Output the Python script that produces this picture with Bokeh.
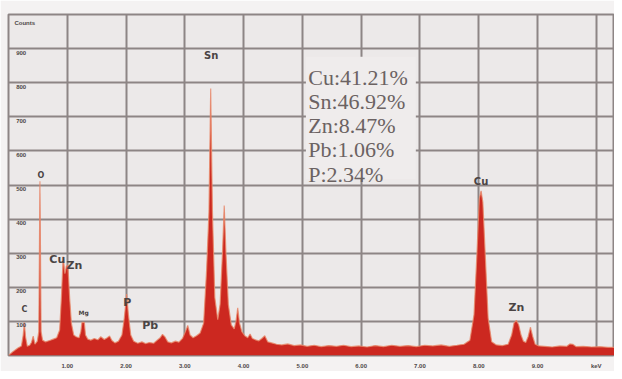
from bokeh.plotting import figure
from bokeh.models import FixedTicker, Range1d, ColumnDataSource
from bokeh.core.properties import value
from bokeh.embed import file_html
from bokeh.resources import INLINE

# ---- spectrum data (keV, counts) ----
energy = [0.00, 0.08, 0.16, 0.22, 0.25, 0.27, 0.29, 0.32, 0.36, 0.39, 0.42, 0.45, 0.49,
          0.515, 0.535, 0.555, 0.58, 0.63, 0.70, 0.76, 0.82, 0.87, 0.90, 0.93, 0.96,
          0.985, 1.01, 1.04, 1.07, 1.11, 1.15, 1.20, 1.23, 1.25, 1.29, 1.31, 1.35, 1.40,
          1.46, 1.52, 1.57, 1.63, 1.68, 1.72, 1.76, 1.81, 1.87, 1.93, 1.97, 2.01, 2.04,
          2.08, 2.13, 2.20, 2.27, 2.33, 2.40, 2.47, 2.53, 2.58, 2.62, 2.66, 2.71, 2.77,
          2.84, 2.90, 2.96, 3.01, 3.05, 3.09, 3.14, 3.20, 3.26, 3.32, 3.37, 3.41, 3.44,
          3.47, 3.51, 3.56, 3.60, 3.64, 3.67, 3.70, 3.74, 3.79, 3.84, 3.87, 3.90, 3.93,
          3.97, 4.02, 4.07, 4.11, 4.15, 4.20, 4.26, 4.31, 4.36, 4.41, 4.48, 4.56, 4.65,
          4.75, 4.86, 4.97, 5.08, 5.20, 5.32, 5.45, 5.58, 5.70, 5.83, 5.96, 6.10, 6.24,
          6.38, 6.52, 6.66, 6.80, 6.94, 7.08, 7.22, 7.36, 7.50, 7.63, 7.75, 7.85, 7.92,
          7.97, 8.01, 8.04, 8.07, 8.11, 8.16, 8.22, 8.30, 8.40, 8.50, 8.56, 8.60, 8.64,
          8.68, 8.72, 8.76, 8.80, 8.84, 8.88, 8.92, 8.96, 9.02, 9.12, 9.25, 9.38, 9.50,
          9.55, 9.60, 9.66, 9.78, 9.92, 10.06, 10.20, 10.31]
counts = [0, 12, 22, 28, 60, 97, 55, 27, 30, 38, 57, 33, 42,
          70, 511, 70, 45, 40, 44, 48, 52, 75, 170, 290, 240,
          262, 265, 170, 95, 60, 55, 52, 70, 97, 97, 60, 48, 45,
          50, 46, 55, 47, 52, 57, 44, 37, 42, 60, 110, 180, 120,
          60, 42, 36, 40, 35, 38, 36, 45, 52, 62, 55, 40, 37,
          42, 39, 50, 70, 88, 60, 52, 58, 66, 95, 250, 420, 783,
          420, 170, 105, 150, 300, 440, 300, 150, 90, 78, 100, 140, 95,
          70, 58, 52, 63, 50, 46, 43, 50, 58, 40, 37, 33, 31,
          34, 29, 31, 27, 30, 26, 29, 27, 30, 26, 28, 25, 29,
          26, 30, 27, 29, 26, 30, 28, 31, 27, 30, 33, 45, 120,
          300, 460, 483, 450, 300, 110, 40, 31, 29, 33, 60, 95, 103,
          90, 60, 42, 38, 55, 83, 55, 33, 28, 27, 25, 28, 27,
          34, 33, 26, 27, 25, 26, 24, 24]

# element labels
el_names = ["Sn", "Cu", "Zn", "O", "C", "Mg", "P", "Pb", "Cu", "Zn"]
el_x = [3.45, 8.04, 8.64, 0.55, 0.27, 1.28, 2.02, 2.41, 0.83, 1.12]
el_y = [879, 509, 141, 529, 135, 126, 155, 89, 282, 264]
el_size = ["10px", "10px", "11px", "8px", "8px", "6px", "11px", "11px", "11px", "11px"]

# composition text
comp_lines = ["Cu:41.21%", "Sn:46.92%", "Zn:8.47%", "Pb:1.06%", "P:2.34%"]
comp_y = [816, 744, 675, 603, 532]

# axis ticks
x_ticks = [1, 2, 3, 4, 5, 6, 7, 8, 9, 10]
x_tick_labels = ["1.00", "2.00", "3.00", "4.00", "5.00", "6.00", "7.00", "8.00", "9.00", "keV"]
y_ticks = [100, 200, 300, 400, 500, 600, 700, 800, 900]
y_tick_labels = ["100", "200", "300", "400", "500", "600", "700", "800", "900"]

p = figure(width=614, height=371, output_backend="svg", toolbar_location=None,
           x_range=Range1d(0, 10.31), y_range=Range1d(0, 1000),
           min_border_left=8, min_border_right=0, min_border_top=14, min_border_bottom=9)
p.background_fill_color = "#ece9e9"
p.border_fill_color = "#f4f2f2"
p.outline_line_color = "#8d8585"
p.outline_line_width = 2

p.yaxis.visible = False
p.xaxis.ticker = FixedTicker(ticks=x_ticks)
p.xaxis.major_label_overrides = {t: l for t, l in zip(x_ticks, x_tick_labels)}
p.xaxis.axis_line_color = None
p.xaxis.major_tick_line_color = None
p.xaxis.minor_tick_line_color = None
p.xaxis.major_label_standoff = 1
p.xaxis.major_label_text_font_size = "6px"
p.xaxis.major_label_text_font_style = "bold"
p.xaxis.major_label_text_color = "#4e4848"

p.xgrid.ticker = FixedTicker(ticks=x_ticks)
p.ygrid.ticker = FixedTicker(ticks=y_ticks)
for g in (p.xgrid, p.ygrid):
    g.grid_line_color = "#8d8585"
    g.grid_line_width = 2

# spectrum
p.varea(x=energy, y1=[0] * len(energy), y2=counts, fill_color="#cc2820")
p.line(energy, counts, line_color="#e98a6a", line_width=1.2, line_alpha=0.8)

# y tick labels inside the frame
p.text(x=[0.13] * len(y_ticks), y=y_ticks, text=y_tick_labels, text_font_size="6px",
       text_font_style="bold", text_color="#4e4848", text_baseline="top", text_align="left",
       y_offset=2)
p.text(x=[0.1], y=[985], text=["Counts"], text_font_size="6px", text_font_style="bold",
       text_color="#4e4848", text_baseline="top", text_align="left")

# element labels
src = ColumnDataSource(dict(x=el_x, y=el_y, t=el_names, s=el_size))
p.text(x="x", y="y", text="t", source=src, text_font_size="s", text_font_style="bold",
       text_color="#4a4444", text_align="center", text_baseline="middle",
       text_font=value("DejaVu Sans"))

# composition box
p.quad(left=[5.06], right=[6.93], bottom=[517], top=[876], fill_color="#efecec", line_color=None)
p.text(x=[5.10] * len(comp_lines), y=comp_y, text=comp_lines, text_font=value("Liberation Serif"),
       text_font_size="22px", text_color="#6b6262", text_align="left", text_baseline="alphabetic")

open("out.html", "w").write(file_html(p, INLINE))
